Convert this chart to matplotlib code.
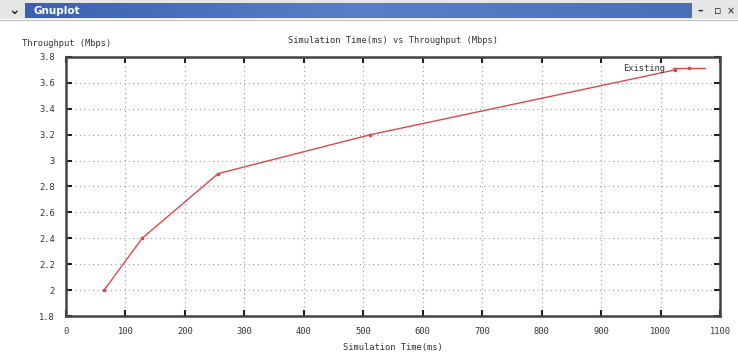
import matplotlib.pyplot as plt
from matplotlib.patches import Rectangle
from matplotlib.colors import LinearSegmentedColormap
import numpy as np

# data
sim_time = [64, 128, 256, 512, 1024]
throughput = [2.0, 2.4, 2.9, 3.2, 3.7]
series_name = "Existing"

x_ticks = [0, 100, 200, 300, 400, 500, 600, 700, 800, 900, 1000, 1100]
y_ticks = [1.8, 2.0, 2.2, 2.4, 2.6, 2.8, 3.0, 3.2, 3.4, 3.6, 3.8]
y_labels = ["1.8", "2", "2.2", "2.4", "2.6", "2.8", "3", "3.2", "3.4", "3.6", "3.8"]

W, H = 738, 356
mono = "DejaVu Sans Mono"
fs = 6.3
txt_col = "#333333"

fig = plt.figure(figsize=(W / 100, H / 100), dpi=100)
fig.patch.set_facecolor("white")


def px(x, y):
    return x / W, 1 - y / H


# window title bar
gray = Rectangle(px(0, 19), 1, 19 / H, transform=fig.transFigure,
                 facecolor="#e6e6e6", edgecolor="none", zorder=-5)
fig.patches.append(gray)
bar_ax = fig.add_axes([25 / W, 1 - 18 / H, (692 - 25) / W, 15 / H], zorder=2)
bar_ax.imshow(np.linspace(0, 1, 256).reshape(1, -1), aspect="auto",
              cmap=LinearSegmentedColormap.from_list("tb", ["#3a62b2", "#5a7fc6", "#4b70ba"]))
bar_ax.axis("off")
bar_ax.text(0.013, 0.5, "Gnuplot", color="white", fontsize=7.5, fontweight="bold",
            va="center", ha="left", transform=bar_ax.transAxes)
fig.text(*px(14, 10.5), "\u2304", color="#222222", fontsize=10, fontweight="bold",
         va="center", ha="center")
fig.text(*px(700, 11), "\u2013", color="#222222", fontsize=8, fontweight="bold",
         va="center", ha="center")
fig.text(*px(718, 11), "\u25ab", color="#222222", fontsize=8, va="center", ha="center")
fig.text(*px(731, 11), "\u00d7", color="#222222", fontsize=7, va="center", ha="center")
fig.lines.append(plt.Line2D([0, 1], [1 - 19.5 / H] * 2, transform=fig.transFigure,
                            color="#bbbbbb", lw=0.8))

# plot area
ax = fig.add_axes([66 / W, 1 - 316 / H, (720 - 66) / W, (316 - 57) / H])
ax.plot(sim_time, throughput, color="#e04848", lw=1.0, marker="s", ms=1.8,
        label=series_name)
ax.set_xlim(0, 1100)
ax.set_ylim(1.8, 3.8)
ax.set_xticks(x_ticks)
ax.set_xticklabels([str(t) for t in x_ticks], fontsize=fs, family=mono, color=txt_col)
ax.set_yticks(y_ticks)
ax.set_yticklabels(y_labels, fontsize=fs, family=mono, color=txt_col)
ax.tick_params(direction="in", length=4, width=1.5, color="#222222",
               top=True, right=True, pad=8)
ax.grid(True, linestyle=(0, (1, 3)), color="#999999", lw=0.8)
for s in ax.spines.values():
    s.set_linewidth(1.8)
    s.set_color("#444444")

ax.set_title("Simulation Time(ms) vs Throughput (Mbps)", fontsize=fs, family=mono,
             color=txt_col, pad=10)
ax.set_xlabel("Simulation Time(ms)", fontsize=fs, family=mono, color=txt_col, labelpad=5)
fig.text(*px(22, 44), "Throughput (Mbps)", fontsize=fs, family=mono, color=txt_col,
         va="center", ha="left")

leg = ax.legend(loc="upper right", bbox_to_anchor=(0.982, 0.985), frameon=False,
                prop={"family": mono, "size": fs}, markerfirst=False, numpoints=1,
                handlelength=3.6, handletextpad=0.9, borderaxespad=0)
for t in leg.get_texts():
    t.set_color(txt_col)

fig.savefig("out.png", dpi=100)
